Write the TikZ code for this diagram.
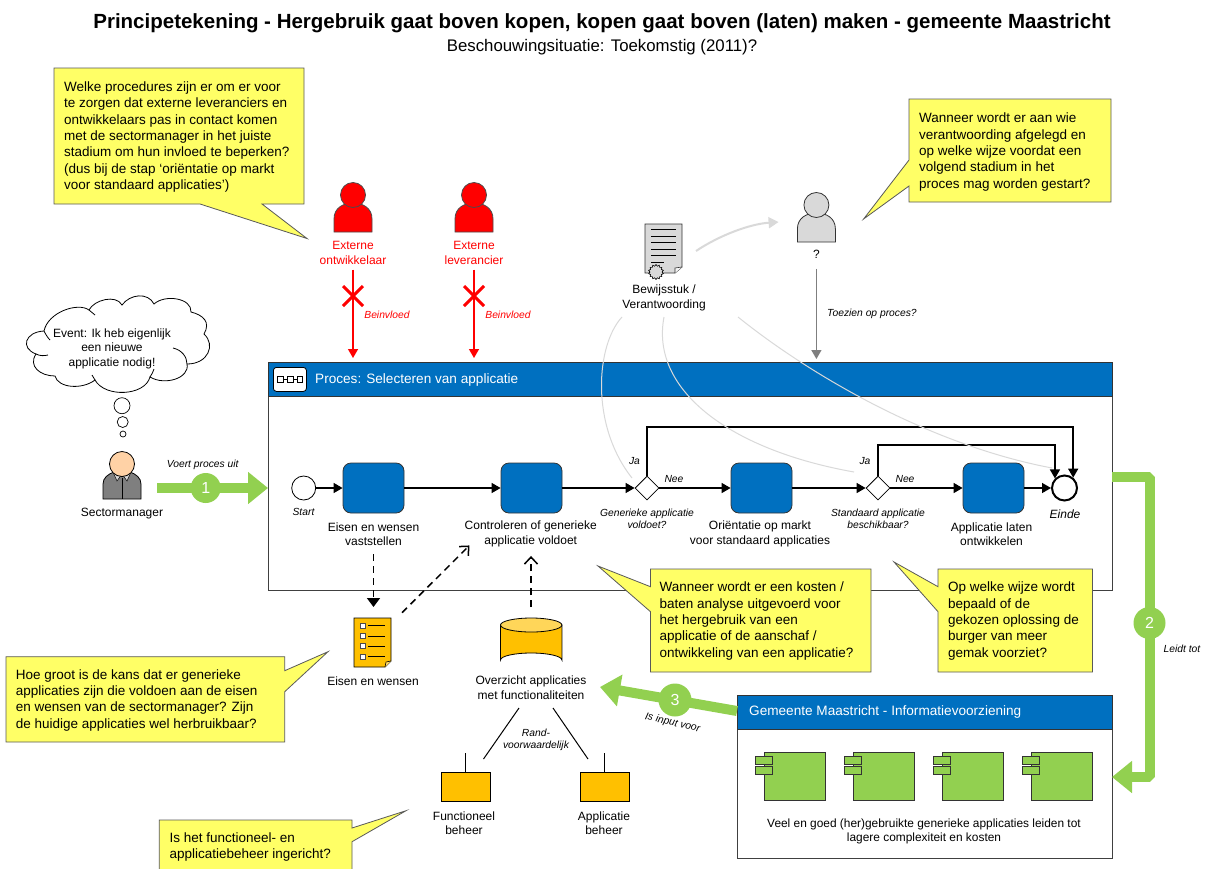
\documentclass[tikz,border=0pt]{standalone}
\usepackage{fontspec}
\setmainfont{Liberation Sans}
\usetikzlibrary{arrows.meta,shapes.geometric,calc}
\definecolor{procblue}{HTML}{0070C0}
\definecolor{notey}{HTML}{FFFF66}
\definecolor{gr}{HTML}{92D050}
\definecolor{amber}{HTML}{FFC000}
\definecolor{lgrey}{HTML}{D9D9D9}
\definecolor{mgrey}{HTML}{7F7F7F}
\definecolor{rd}{HTML}{FF0000}
\tikzset{
  note/.style={fill=notey,draw=black!65,line width=0.8pt},
  notetext/.style={anchor=west,align=left,inner sep=0pt,font=\fontsize{13.5}{16.3}\selectfont},
  lbl/.style={align=center,inner sep=0pt,font=\fontsize{12}{14.3}\selectfont},
  ital/.style={align=center,inner sep=0pt,font=\itshape\fontsize{10.3}{12}\selectfont},
  flow/.style={line width=1.4pt,-{Triangle[length=9pt,width=10pt]}},
  task/.style={draw=black!80,fill=procblue,rounded corners=8pt,minimum width=61pt,minimum height=50pt,inner sep=0pt,line width=0.8pt},
  gate/.style={diamond,draw=black,fill=white,minimum width=24pt,minimum height=24pt,inner sep=0pt,line width=0.8pt},
  bigarrow/.style={line width=10pt,draw=gr,line join=bevel,-{Triangle[length=20pt,width=31pt,fill=gr]}},
  numdot/.style={circle,fill=gr,text=white,inner sep=0pt,font=\fontsize{16}{16}\selectfont},
  softcurve/.style={draw=lgrey,line width=1pt},
  dashline/.style={line width=1.5pt,dash pattern=on 7pt off 5pt},
  header/.style={fill=procblue,draw=black!80,line width=0.8pt,anchor=north west,inner sep=0pt,outer sep=0pt},
  frame/.style={draw=black!75,fill=white,line width=1pt,anchor=north west,inner sep=0pt,outer sep=0pt},
  hdtext/.style={anchor=west,inner sep=0pt,text=white,font=\fontsize{13.6}{15}\selectfont},
  amberbox/.style={draw=black,fill=amber,line width=0.8pt,minimum width=49pt,minimum height=29pt,inner sep=0pt,anchor=north west},
  cmpbox/.style={draw=black!80,fill=gr,line width=0.8pt},
  bubble/.style={circle,draw=black,fill=white,line width=0.7pt,inner sep=0pt}
}
\newcommand{\personfig}[3]{%
  \begin{scope}[shift={(#1)}]
    \draw[fill=#2,draw=#3,line width=0.8pt] (-19,37) -- (-19,24) .. controls (-19,13) and (-10,8) .. (0,8) .. controls (10,8) and (19,13) .. (19,24) -- (19,37) -- cycle;
    \draw[fill=#2,draw=#3,line width=0.8pt] (0,0) circle[radius=12.5];
  \end{scope}}
\newcommand{\component}[1]{%
  \begin{scope}[shift={(#1,0)}]
    \draw[cmpbox] (764,752) rectangle (825,800.7);
    \draw[cmpbox] (755.7,756.7) rectangle (772.7,764);
    \draw[cmpbox] (755.7,766.7) rectangle (772.7,774);
  \end{scope}}
\begin{document}
\begin{tikzpicture}[x=1pt,y=-1pt]
\clip (0,0) rectangle (1209,868);
\fill[white] (0,0) rectangle (1209,868);

% title
\node[inner sep=0pt,font=\bfseries\fontsize{20.5}{22}\selectfont] (title) at (602,23) {Principetekening - Hergebruik gaat boven kopen, kopen gaat boven (laten) maken - gemeente Maastricht};
\node[inner sep=0pt,font=\fontsize{16.8}{18}\selectfont] (subtitle) at (602,47) {Beschouwingsituatie: Toekomstig (2011)?};

% process frame
\node[frame,minimum width=844pt,minimum height=228pt] (proc) at (268,362) {};
\node[header,minimum width=844pt,minimum height=34pt] (prochead) at (268,362) {};
\node[draw=black,fill=white,rounded corners=3pt,minimum width=33pt,minimum height=24pt,anchor=north west,inner sep=0pt,line width=0.8pt] (procicon) at (273,367) {};
\draw[line width=0.7pt] (277,376) rectangle (283,382) (287,376) rectangle (293,382) (297,376) rectangle (302,382);
\draw[line width=0.7pt] (283,379) -- (287,379) (293,379) -- (297,379);
\node[hdtext] (proctitle) at (315,379.5) {Proces: Selecteren van applicatie};

% info frame
\node[frame,minimum width=375pt,minimum height=163pt] (info) at (737,695) {};
\node[header,minimum width=375pt,minimum height=34pt] (infohead) at (737,695) {};
\node[hdtext] (infotitle) at (749,712) {Gemeente Maastricht - Informatievoorziening};
\component{0}\component{89}\component{178}\component{267}
\node[lbl,font=\fontsize{11.9}{14}\selectfont] (infotxt) at (924,831) {Veel en goed (her)gebruikte generieke applicaties leiden tot\\lagere complexiteit en kosten};

% process flow
\node[circle,draw=black,fill=white,minimum size=24pt,inner sep=0pt,line width=0.8pt] (start) at (303.7,488) {};
\node[task] (t1) at (373.5,488) {};
\node[task] (t2) at (531.5,488) {};
\node[gate] (d1) at (647,488) {};
\node[task] (t3) at (761.5,488) {};
\node[gate] (d2) at (878,488) {};
\node[task] (t4) at (993.5,488) {};
\node[circle,draw=black,fill=white,minimum size=25pt,inner sep=0pt,line width=2pt] (endc) at (1064.5,488) {};
\draw[flow] (start) -- (t1);
\draw[flow] (t1) -- (t2);
\draw[flow] (t2) -- (d1);
\draw[flow] (d1) -- (t3);
\draw[flow] (t3) -- (d2);
\draw[flow] (d2) -- (t4);
\draw[flow] (t4) -- (endc);
\coordinate (loopa) at (900,427);
\coordinate (loopb) at (950,445);
\draw[flow] (d1.north) |- (loopa) -| (endc.50);
\draw[flow] (d2.north) |- (loopb) -| (endc.135);

\node[ital] (lstart) at (303.5,512) {Start};
\node[lbl] (lt1) at (373.5,534) {Eisen en wensen\\vaststellen};
\node[lbl] (lt2) at (530.7,534) {Controleren of generieke\\applicatie voldoet};
\node[lbl] (lt3) at (760,534) {Oriëntatie op markt\\voor standaard applicaties};
\node[lbl] (lt4) at (991.5,534) {Applicatie laten\\ontwikkelen};
\node[ital] (ld1) at (647,518.5) {Generieke applicatie\\voldoet?};
\node[ital] (ld2) at (878,518.5) {Standaard applicatie\\beschikbaar?};
\node[ital] (ja1) at (634.5,461) {Ja};
\node[ital] (nee1) at (674,478.5) {Nee};
\node[ital] (ja2) at (865,461) {Ja};
\node[ital] (nee2) at (905,478.5) {Nee};
\node[ital,font=\itshape\fontsize{12}{14}\selectfont] (leinde) at (1065,514) {Einde};

% red persons
\personfig{353,195}{rd}{black!70}
\personfig{474,195}{rd}{black!70}
\node[lbl,text=rd] (ontw) at (353,253) {Externe\\ontwikkelaar};
\node[lbl,text=rd] (lev) at (474,253) {Externe\\leverancier};
\draw[rd,line width=1.3pt,-{Triangle[length=9pt,width=10pt]},shorten <=5pt,shorten >=4pt] (ontw.south) -- (ontw.south |- proc.north);
\draw[rd,line width=1.3pt,-{Triangle[length=9pt,width=10pt]},shorten <=5pt,shorten >=4pt] (lev.south) -- (lev.south |- proc.north);
\coordinate (x1) at (353,296);
\coordinate (x2) at (474,296);
\draw[rd,line width=3pt] ($(x1)+(-10,-10)$) -- ($(x1)+(10,10)$) ($(x1)+(-10,10)$) -- ($(x1)+(10,-10)$);
\draw[rd,line width=3pt] ($(x2)+(-10,-10)$) -- ($(x2)+(10,10)$) ($(x2)+(-10,10)$) -- ($(x2)+(10,-10)$);
\node[ital,text=rd] (bv1) at (387,315) {Beinvloed};
\node[ital,text=rd] (bv2) at (508,315) {Beinvloed};

% grey person
\personfig{816.4,205}{lgrey}{black!80}
\node[lbl] (vraag) at (816.4,254.5) {?};
\draw[mgrey,line width=1.3pt,-{Triangle[length=9pt,width=10pt]},shorten <=10pt,shorten >=3pt] (vraag.south) -- (vraag.south |- proc.north);
\node[ital,anchor=west] (toez) at (827,314) {Toezien op proces?};

% certificate
\draw[fill=lgrey,draw=black!80,line width=0.8pt] (645,224) -- (682,224) -- (682,267) -- (675,273) -- (645,273) -- cycle;
\draw[fill=white!70!lgrey,draw=black!80,line width=0.6pt] (682,267) -- (675,268) -- (675,273);
\draw[line width=0.7pt] (651,229.3) -- (676,229.3) (651,236) -- (676,236) (651,242.3) -- (676,242.3) (651,249.3) -- (676,249.3) (651,255) -- (676,255) (651,262.3) -- (663.6,262.3);
\node[star,star points=14,star point ratio=1.25,draw=black,fill=lgrey,minimum size=15pt,inner sep=0pt,line width=0.6pt] (seal) at (656,272) {};
\node[lbl,font=\fontsize{12}{15}\selectfont] (bewijs) at (664,297.5) {Bewijsstuk /\\Verantwoording};

% soft curves
\coordinate (c0s) at (696,251);
\coordinate (c0e) at (778.6,222);
\coordinate (c1s) at (622,317);
\coordinate (c1e) at (632,478);
\coordinate (c2s) at (664,317);
\coordinate (c2e) at (854,472);
\coordinate (c3s) at (738,317);
\coordinate (c3e) at (1052,468);
\draw[lgrey,line width=2pt,-{Triangle[length=10pt,width=11pt]}] (c0s) .. controls (720,235) and (750,224) .. (c0e);
\draw[softcurve] (c1s) .. controls (596,345) and (590,425) .. (c1e);
\draw[softcurve] (c2s) .. controls (650,390) and (730,450) .. (c2e);
\draw[softcurve] (c3s) .. controls (810,375) and (930,445) .. (c3e);

% callouts
\draw[note] (54,68) -- (304,68) -- (304,204) -- (262,204) -- (307,238.5) -- (200,204) -- (54,204) -- cycle;
\node[notetext] (n1) at (64,137) {Welke procedures zijn er om er voor\\te zorgen dat externe leveranciers en\\ontwikkelaars pas in contact komen\\met de sectormanager in het juiste\\stadium om hun invloed te beperken?\\(dus bij de stap ‘oriëntatie op markt\\voor standaard applicaties’)};
\draw[note] (909,99) -- (1111,99) -- (1111,202) -- (909,202) -- (909,186) -- (863.6,219) -- (909,160) -- cycle;
\node[notetext] (n2) at (919,152) {Wanneer wordt er aan wie\\verantwoording afgelegd en\\op welke wijze voordat een\\volgend stadium in het\\proces mag worden gestart?};
\draw[note] (650.5,569) -- (871,569) -- (871,672) -- (650.5,672) -- (650.5,611.7) -- (598,566) -- (650.5,586.7) -- cycle;
\node[notetext] (n3) at (659.5,621) {Wanneer wordt er een kosten /\\baten analyse uitgevoerd voor\\het hergebruik van een\\applicatie of de aanschaf /\\ontwikkeling van een applicatie?};
\draw[note] (938,569) -- (1092.4,569) -- (1092.4,672) -- (938,672) -- (938,611.7) -- (894,562) -- (938,586.7) -- cycle;
\node[notetext] (n4) at (948,621) {Op welke wijze wordt\\bepaald of de\\gekozen oplossing de\\burger van meer\\gemak voorziet?};
\draw[note] (6,656.7) -- (284.7,656.7) -- (284.7,670.7) -- (328,651.7) -- (284.7,691.7) -- (284.7,742) -- (6,742) -- cycle;
\node[notetext] (n5) at (15.6,700.3) {Hoe groot is de kans dat er generieke\\applicaties zijn die voldoen aan de eisen\\en wensen van de sectormanager? Zijn\\de huidige applicaties wel herbruikbaar?};
\draw[note] (159.3,820) -- (352,820) -- (352,828) -- (406,810.7) -- (352,841.7) -- (352,880) -- (159.3,880) -- cycle;
\node[notetext] (n6) at (169.4,847) {Is het functioneel- en\\applicatiebeheer ingericht?};

% requirements document
\draw[fill=amber,draw=black,line width=0.8pt] (354,618) -- (391,618) -- (391,661) -- (385,667) -- (354,667) -- cycle;
\draw[fill=amber!60!white,draw=black,line width=0.6pt] (391,661) -- (386,662) -- (385,667);
\foreach \yy in {625.7,636,646,656.3}{
  \draw[fill=white,draw=black!70,line width=0.5pt] (360,\yy-2.5) rectangle (365,\yy+2.5);
  \draw[line width=0.8pt] (368,\yy) -- (385,\yy);
}
\coordinate (docin) at (373.5,607);
\coordinate (docout) at (402,612.7);
\node[lbl] (leisen) at (373,681) {Eisen en wensen};
\draw[dashline,-{Triangle[length=9pt,width=13pt]},shorten <=6pt] (lt1.south |- 0,548) -- (docin);
\draw[dashline,-{Straight Barb[length=7pt,width=13pt]}] (docout) -- ($(lt2.south west)+(5,-1.5)$);

% database
\draw[fill=amber,draw=black,line width=0.8pt] (500.5,625) -- (500.5,660) arc[start angle=180,end angle=360,x radius=30.7,y radius=7] -- (561.9,625) -- cycle;
\draw[fill=amber!65!white,draw=black,line width=0.8pt] (531.2,625) ellipse[x radius=30.7,y radius=7];
\coordinate (dbtop) at (531,607);
\draw[dashline,-{Straight Barb[length=7pt,width=13pt]}] (dbtop) -- ($(lt2.south)+(0.3,9)$);
\node[lbl,font=\fontsize{12}{15}\selectfont] (ov) at (531,687.5) {Overzicht applicaties\\met functionaliteiten};

% beheer
\node[amberbox] (fb) at (441,772) {};
\node[amberbox] (ab) at (580,772) {};
\node[lbl] (lfb) at (464,823) {Functioneel\\beheer};
\node[lbl] (lab) at (604,823) {Applicatie\\beheer};
\coordinate (fbtop) at (465.5,753);
\coordinate (abtop) at (604.5,753);
\coordinate (ovl) at (519,708);
\coordinate (ovr) at (553,708);
\coordinate (fbl) at (483.5,759);
\coordinate (abl) at (588,759);
\draw[line width=0.9pt] (fbtop) -- (fbtop |- fb.north);
\draw[line width=0.9pt] (abtop) -- (abtop |- ab.north);
\draw[line width=1pt] (ovl) -- (fbl);
\draw[line width=1pt] (ovr) -- (abl);
\node[ital] (rand) at (536,739.5) {Rand-\\voorwaardelijk};

% thought cloud
\draw[fill=white,draw=black,line width=0.8pt] (44,331) .. controls (48,312) and (78,302) .. (89,310) .. controls (94,300) and (116,294) .. (122,305) .. controls (130,294) and (148,292) .. (154,304) .. controls (165,294) and (192,298) .. (191,312) .. controls (203,315) and (211,322) .. (204,334) .. controls (216,345) and (208,364) .. (187,364) .. controls (190,378) and (165,386) .. (150,377) .. controls (145,396) and (105,398) .. (95,380) .. controls (82,390) and (58,388) .. (55,376) .. controls (40,376) and (28,366) .. (36,354) .. controls (20,348) and (25,332) .. (44,331) -- cycle;
\draw[line width=0.8pt] (44,331) .. controls (46,335) and (48,338) .. (50,340);
\draw[line width=0.8pt] (89,310) .. controls (91,312) and (93,313) .. (95,315);
\draw[line width=0.8pt] (173,348) .. controls (182,350) and (187,357) .. (187,364);
\draw[line width=0.8pt] (150,377) .. controls (152,374) and (153,372) .. (154,369);
\draw[line width=0.8pt] (95,380) .. controls (94,378) and (93,377) .. (92,375);
\draw[line width=0.8pt] (36,354) .. controls (40,356) and (44,356) .. (48,355);
\node[lbl,font=\fontsize{12}{14.4}\selectfont] (cloudtxt) at (112,348.5) {Event: Ik heb eigenlijk\\een nieuwe\\applicatie nodig!};
\node[bubble,minimum size=16pt] (b1) at (122,405.7) {};
\node[bubble,minimum size=11pt] (b2) at (122.7,422) {};
\node[bubble,minimum size=6pt] (b3) at (123,434) {};

% sector manager
\draw[fill=mgrey,draw=black,line width=0.8pt] (103,499) -- (103,484) .. controls (103,478) and (108,474) .. (114,472) -- (130,472) .. controls (136,474) and (141,478) .. (141,484) -- (141,499) -- cycle;
\draw[line width=0.7pt] (122,478) -- (122,499);
\draw[fill=lgrey,draw=black,line width=0.5pt] (113,472) -- (122,474) -- (117,481) -- cycle;
\draw[fill=lgrey,draw=black,line width=0.5pt] (131,472) -- (122,474) -- (127,481) -- cycle;
\draw[fill=orange!35!white,draw=black,line width=0.8pt] (122,464) circle[radius=12.5];
\node[lbl] (sm) at (122,514) {Sectormanager};

% big arrows
\coordinate (g1) at (157,488);
\draw[bigarrow] (g1) -- (proc.west |- g1);
\node[numdot,minimum size=30pt] (n1dot) at (205.7,488) {1};
\node[ital] (lg1) at (202.7,465) {Voert proces uit};
\coordinate (g2a) at (1149.5,476.5);
\coordinate (g2b) at (1149.5,777);
\draw[bigarrow] (proc.east |- g2a) -- (g2a) -- (g2b) -- (info.east |- g2b);
\node[numdot,minimum size=32pt] (n2dot) at (1149.5,623) {2};
\node[ital] (lg2) at (1182,649) {Leidt tot};
\coordinate (g3) at (737,711);
\coordinate (g3t) at (600,687);
\draw[bigarrow] (info.west |- g3) -- (g3t);
\node[numdot,minimum size=33pt] (n3dot) at (675,700) {3};
\node[ital,rotate=-13] (lg3) at (672.6,723) {Is input voor};
\end{tikzpicture}
\end{document}
